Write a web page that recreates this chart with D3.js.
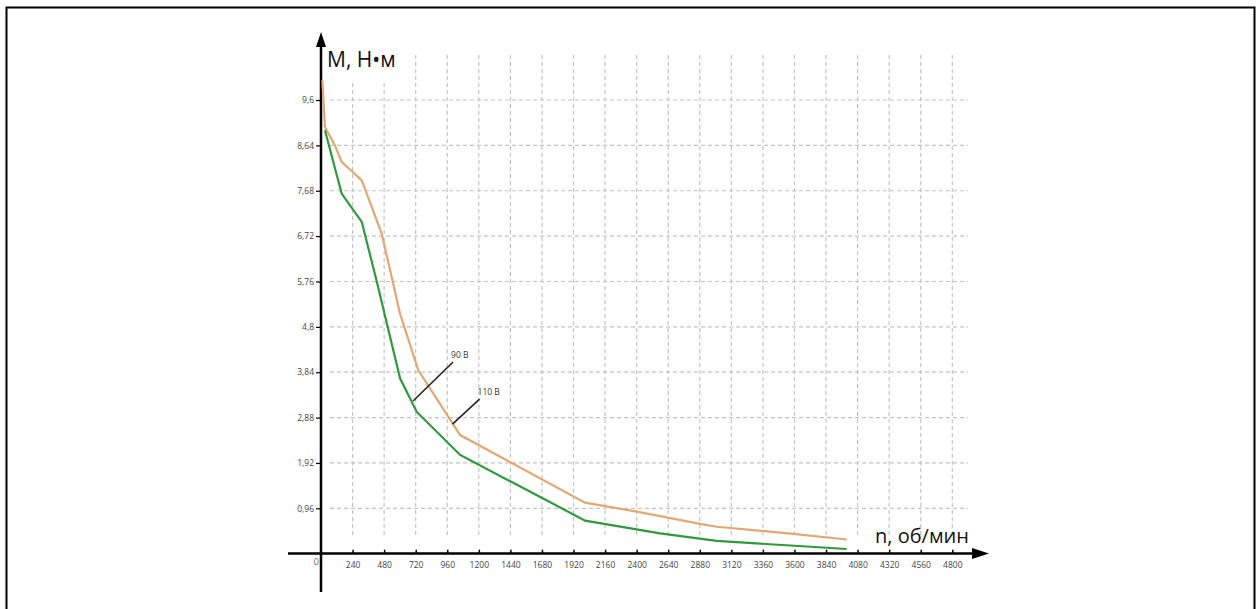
<!DOCTYPE html>
<html>
<head>
<meta charset="utf-8">
<script src="https://cdn.jsdelivr.net/npm/d3@7"></script>
<style>
  body { margin: 0; background: #fff; }
  svg text { font-family: "Open Sans", "DejaVu Sans", sans-serif; }
</style>
</head>
<body>
<div id="graph"></div>
<script>
// values
const xTicks = [240, 480, 720, 960, 1200, 1440, 1680, 1920, 2160, 2400, 2640, 2880,
                3120, 3360, 3600, 3840, 4080, 4320, 4560, 4800];
const yTicks = [0.96, 1.92, 2.88, 3.84, 4.8, 5.76, 6.72, 7.68, 8.64, 9.6];
const yTickLabels = ['0,96', '1,92', '2,88', '3,84', '4,8', '5,76', '6,72', '7,68', '8,64', '9,6'];

// 110 В (orange)
const rpm110 = [10, 30, 106, 157, 310, 462, 601, 740, 1058, 2008, 2401, 2882, 3009, 3592, 3997];
const m110 = [10.02, 9.03, 8.64, 8.29, 7.90, 6.77, 5.08, 3.88, 2.51, 1.08, 0.89, 0.63, 0.57, 0.42, 0.30];
// 90 В (green)
const rpm90 = [30, 157, 310, 424, 601, 728, 1058, 2008, 2578, 3009, 3997];
const m90 = [8.96, 7.62, 7.02, 5.76, 3.71, 3.00, 2.09, 0.70, 0.43, 0.27, 0.10];

const labels = [
  { text: '90 В', rpm: 700, m: 3.23, dx: 40, dy: -39 },
  { text: '110 В', rpm: 1000, m: 2.74, dx: 27, dy: -25 }
];

const w = 1257, h = 609;
const svg = d3.select('#graph').append('svg').attr('width', w).attr('height', h);

// frame
svg.append('rect').attr('x', 6.5).attr('y', 7.5).attr('width', 1248).attr('height', 610)
  .attr('fill', 'none').attr('stroke', '#000').attr('stroke-width', 2);

const xScale = d3.scaleLinear().domain([0, 4800]).range([321, 952.3]);
const yScale = d3.scaleLinear().domain([0, 9.6]).range([553.7, 100]);

// grid
const grid = svg.append('g').attr('stroke', '#c4c4c4').attr('stroke-width', 1.2)
  .attr('stroke-dasharray', '4,3');
grid.selectAll('line.v').data(xTicks).enter().append('line')
  .attr('x1', d => xScale(d)).attr('x2', d => xScale(d))
  .attr('y1', 535).attr('y2', d => d <= 480 ? 82 : 53);
grid.selectAll('line.h').data(yTicks).enter().append('line')
  .attr('y1', d => yScale(d)).attr('y2', d => yScale(d))
  .attr('x1', 330).attr('x2', 968);

// axes
const xAxis = d3.axisBottom(xScale).tickValues(xTicks).tickSize(0).tickPadding(8)
  .tickFormat(d3.format('d'));
const yAxis = d3.axisLeft(yScale).tickValues(yTicks).tickSize(5).tickPadding(2)
  .tickFormat((d, i) => yTickLabels[i]);

const gx = svg.append('g').attr('transform', 'translate(0,' + yScale(0) + ')').call(xAxis);
gx.select('.domain').remove();
gx.selectAll('text').attr('font-size', 8.5).attr('fill', '#444');
gx.selectAll('.tick').append('line').attr('y1', 0).attr('y2', -4)
  .attr('stroke', '#000').attr('stroke-width', 1.5);

const gy = svg.append('g').attr('transform', 'translate(321,0)').call(yAxis);
gy.select('.domain').remove();
gy.selectAll('line').attr('stroke', '#000').attr('stroke-width', 1.2);
gy.selectAll('text').attr('font-size', 8.5).attr('fill', '#444');

svg.append('text').attr('x', 319).attr('y', 565).attr('text-anchor', 'end')
  .attr('font-size', 9).attr('fill', '#666').text('0');

// main axis lines with arrows
svg.append('line').attr('x1', 288).attr('x2', 975).attr('y1', 553.5).attr('y2', 553.5)
  .attr('stroke', '#000').attr('stroke-width', 2.5);
svg.append('path').attr('d', 'M972,548 L989,553.5 L972,559 Z').attr('fill', '#000');
svg.append('line').attr('x1', 321).attr('x2', 321).attr('y1', 45).attr('y2', 592)
  .attr('stroke', '#000').attr('stroke-width', 2.5);
svg.append('path').attr('d', 'M316,47 L321,32 L326,47 Z').attr('fill', '#000');

svg.append('text').attr('x', 327).attr('y', 67).attr('font-size', 21).attr('fill', '#111')
  .text('M, Н•м');
svg.append('text').attr('x', 875).attr('y', 543).attr('font-size', 20).attr('fill', '#111')
  .text('n, об/мин');

// curves
const line = d3.line().x(d => xScale(d[0])).y(d => yScale(d[1]));
svg.append('path').datum(rpm110.map((r, i) => [r, m110[i]])).attr('d', line)
  .attr('fill', 'none').attr('stroke', '#e2a775').attr('stroke-width', 2.2);
svg.append('path').datum(rpm90.map((r, i) => [r, m90[i]])).attr('d', line)
  .attr('fill', 'none').attr('stroke', '#2f9a3c').attr('stroke-width', 2.2);

// leader labels
labels.forEach(l => {
  const x0 = xScale(l.rpm), y0 = yScale(l.m);
  svg.append('line').attr('x1', x0).attr('y1', y0).attr('x2', x0 + l.dx).attr('y2', y0 + l.dy)
    .attr('stroke', '#222').attr('stroke-width', 1.6);
  svg.append('text').attr('x', x0 + l.dx - 2).attr('y', y0 + l.dy - 4)
    .attr('font-size', 8.5).attr('fill', '#333').text(l.text);
});
</script>
</body>
</html>
